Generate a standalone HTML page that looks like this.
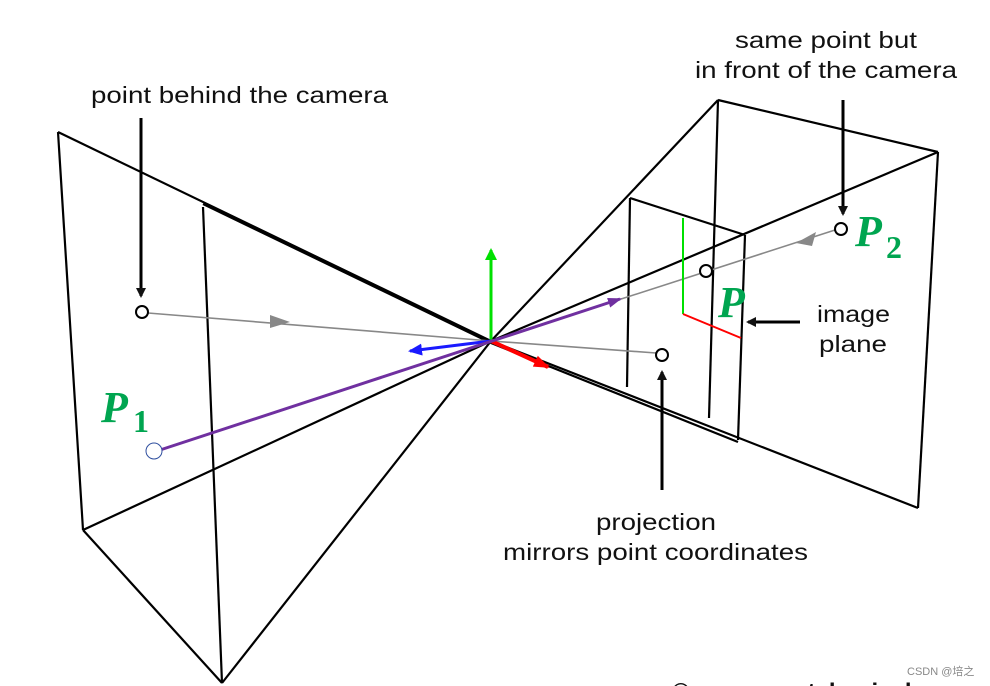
<!DOCTYPE html>
<html><head><meta charset="utf-8"><style>
html,body{margin:0;padding:0;background:#fff}
svg{display:block}
.t{font-family:"Liberation Sans",sans-serif;font-size:23px;fill:#111}
.p{font-family:"Liberation Serif",serif;font-weight:bold;font-style:italic;fill:#00a550}
.s{font-family:"Liberation Serif",serif;font-weight:bold;fill:#00a550}
</style></head><body>
<svg width="990" height="686" viewBox="0 0 990 686" xmlns="http://www.w3.org/2000/svg">
<defs>
<marker id="ab" markerWidth="10" markerHeight="10" refX="8" refY="5" orient="auto" markerUnits="userSpaceOnUse"><path d="M0,0 L10,5 L0,10 z" fill="#111"/></marker>
<marker id="ap" markerWidth="14" markerHeight="10" refX="12" refY="5" orient="auto" markerUnits="userSpaceOnUse"><path d="M0,0 L14,5 L0,10 z" fill="#7030a0"/></marker>
<marker id="agr" markerWidth="12" markerHeight="12" refX="10" refY="6" orient="auto" markerUnits="userSpaceOnUse"><path d="M0,0 L12,6 L0,12 z" fill="#00e000"/></marker>
<marker id="abl" markerWidth="14" markerHeight="12" refX="12" refY="6" orient="auto" markerUnits="userSpaceOnUse"><path d="M0,0 L14,6 L0,12 z" fill="#1a1aff"/></marker>
<marker id="ar" markerWidth="16" markerHeight="12" refX="14" refY="6" orient="auto" markerUnits="userSpaceOnUse"><path d="M0,0 L16,6 L0,12 z" fill="#ff0000"/></marker>
</defs>
<g stroke="#000" stroke-width="2.2" fill="none">
<line x1="58" y1="132" x2="491" y2="341"/>
<line x1="58" y1="132" x2="83" y2="530"/>
<line x1="83" y1="530" x2="491" y2="341"/>
<line x1="83" y1="530" x2="222" y2="683"/>
<line x1="222" y1="683" x2="491" y2="341"/>
<line x1="203" y1="207" x2="222" y2="683"/>
<line x1="203" y1="204" x2="491" y2="343"/>
<line x1="491" y1="341" x2="718" y2="100"/>
<line x1="491" y1="341" x2="938" y2="152"/>
<line x1="491" y1="341" x2="918" y2="508"/>
<line x1="491" y1="343" x2="738" y2="442"/>
<line x1="718" y1="100" x2="938" y2="152"/>
<line x1="938" y1="152" x2="918" y2="508"/>
<line x1="718" y1="100" x2="709" y2="418"/>
<line x1="630" y1="198" x2="745" y2="235"/>
<line x1="745" y1="235" x2="738" y2="440"/>
<line x1="630" y1="198" x2="627" y2="387"/>
</g>
<g stroke="#888" stroke-width="1.6" fill="none">
<line x1="148" y1="313" x2="491" y2="341"/>
<line x1="491" y1="341" x2="656" y2="353"/>
<line x1="835" y1="230" x2="491" y2="341"/>
</g>
<path d="M270,315 L290,322 L270,328 z" fill="#888"/>
<path d="M816,232 L796,243 L812,246 z" fill="#888"/>
<line x1="683" y1="218" x2="683" y2="314" stroke="#00e000" stroke-width="2"/>
<line x1="683" y1="314" x2="741" y2="338" stroke="#ff0000" stroke-width="2"/>
<line x1="491" y1="341" x2="491" y2="250" stroke="#00e000" stroke-width="3" marker-end="url(#agr)"/>
<line x1="491" y1="341" x2="410" y2="351" stroke="#1a1aff" stroke-width="3" marker-end="url(#abl)"/>
<line x1="491" y1="341" x2="548" y2="367" stroke="#ff0000" stroke-width="4" marker-end="url(#ar)"/>
<line x1="160" y1="450" x2="620" y2="299" stroke="#7030a0" stroke-width="3" marker-end="url(#ap)"/>
<g fill="#fff" stroke="#000" stroke-width="2">
<circle cx="142" cy="312" r="6"/>
<circle cx="706" cy="271" r="6"/>
<circle cx="841" cy="229" r="6"/>
<circle cx="662" cy="355" r="6"/>
</g>
<circle cx="154" cy="451" r="8" fill="#fff" stroke="#2f4f9f" stroke-width="1"/>
<g stroke="#000" stroke-width="3">
<line x1="141" y1="118" x2="141" y2="296" marker-end="url(#ab)"/>
<line x1="843" y1="100" x2="843" y2="214" marker-end="url(#ab)"/>
<line x1="662" y1="490" x2="662" y2="372" marker-end="url(#ab)"/>
<line x1="800" y1="322" x2="748" y2="322" marker-end="url(#ab)"/>
</g>
<text class="t" x="91" y="103" textLength="297" lengthAdjust="spacingAndGlyphs">point behind the camera</text>
<text class="t" x="735" y="48" textLength="182" lengthAdjust="spacingAndGlyphs">same point but</text>
<text class="t" x="695" y="78" textLength="262" lengthAdjust="spacingAndGlyphs">in front of the camera</text>
<text class="t" x="817" y="322" textLength="73" lengthAdjust="spacingAndGlyphs">image</text>
<text class="t" x="819" y="352" textLength="68" lengthAdjust="spacingAndGlyphs">plane</text>
<text class="t" x="596" y="530" textLength="120" lengthAdjust="spacingAndGlyphs">projection</text>
<text class="t" x="503" y="560" textLength="305" lengthAdjust="spacingAndGlyphs">mirrors point coordinates</text>
<text class="p" x="101" y="422" font-size="44">P</text>
<text class="s" x="133" y="432" font-size="32">1</text>
<text class="p" x="718" y="317" font-size="44">P</text>
<text class="p" x="855" y="246" font-size="44">P</text>
<text class="s" x="886" y="258" font-size="32">2</text>
<text x="672" y="700" font-family="Liberation Sans,sans-serif" font-weight="bold" font-size="24" fill="#111">© www.scratchapixel.com</text>
<text x="907" y="675" font-family="'Liberation Sans','Noto Sans CJK SC',sans-serif" font-size="11" fill="#888">CSDN @培之</text>
</svg>
</body></html>
